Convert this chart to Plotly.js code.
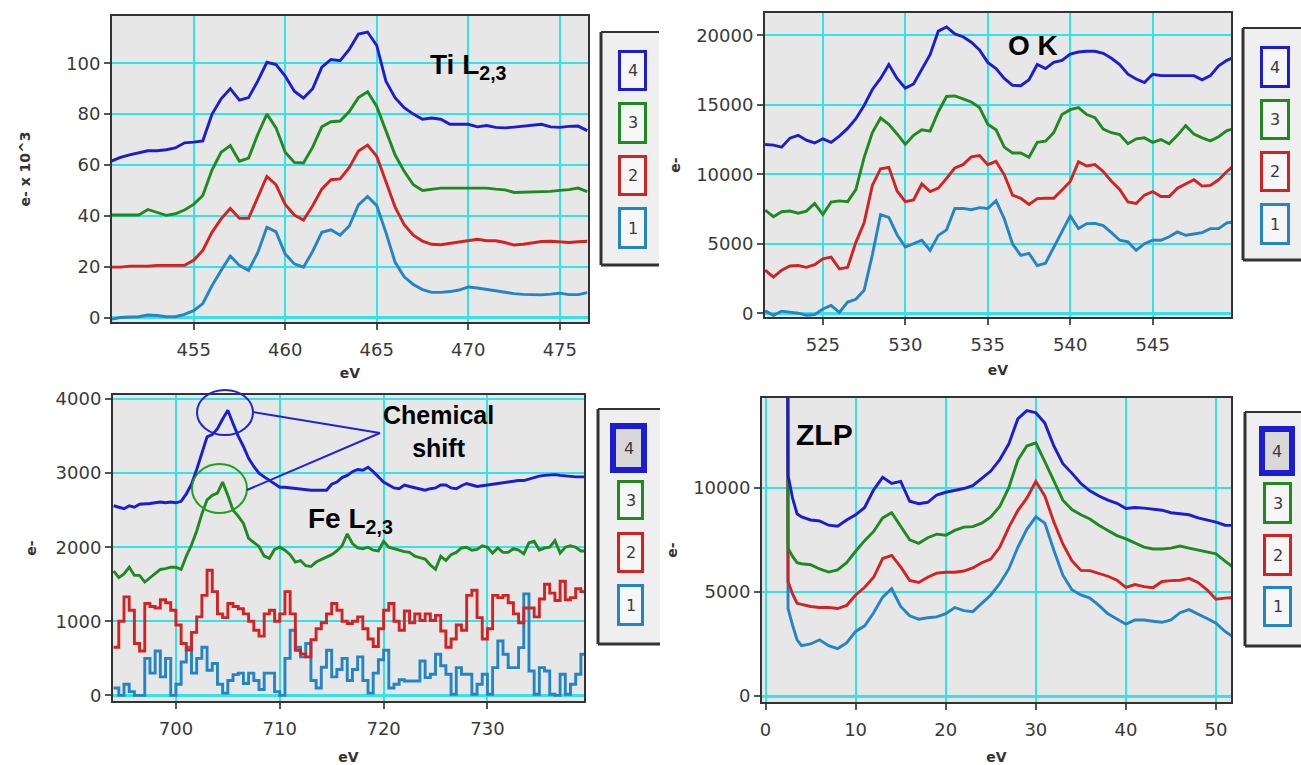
<!DOCTYPE html>
<html><head><meta charset="utf-8">
<script src="https://cdn.plot.ly/plotly-3.0.1.min.js"></script>
<style>html,body{margin:0;padding:0;background:#fff;}#chart{width:1301px;height:765px;}</style>
</head><body><div id="chart"></div>
<script>
// ---------- DATA ----------
const seriesNames = ['1','2','3','4'];

// Ti L2,3 panel
const tiEnergy = [450.5,451,451.5,452,452.5,453,453.5,454,454.5,455,455.5,456,456.5,457,457.5,458,458.5,459,459.5,460,460.5,461,461.5,462,462.5,463,463.5,464,464.5,465,465.5,466,466.5,467,467.5,468,468.5,469,469.5,470,470.5,471,471.5,472,472.5,473,473.5,474,474.5,475,475.5,476,476.5];
const tiS1 = [-0.7,0,0.2,0.3,1.0,0.8,0.3,0.3,1.2,2.7,5.5,12.5,18.5,24.2,20.5,18.5,25.5,35.5,33.7,25,21.1,19.8,26,33.5,34.5,32.4,36,44.3,47.6,44,33.5,21.8,16,13,11,9.9,9.9,10.2,10.8,12,11.6,11,10.5,10,9.4,9.1,9,8.9,9.2,9.6,9,9,9.8];
const tiS2 = [19.8,19.8,20.2,20.2,20.2,20.5,20.5,20.5,20.5,22.5,26.4,33.5,38.8,42.9,39,39,47.5,55.5,52.2,44.5,40.3,38.3,44,50.5,54.2,54.5,59,65.5,67.8,63.4,53.5,43.5,36.5,32.4,30,28.8,28.6,29.1,29.8,30.3,30.8,30.2,30.2,29.5,28.5,28.8,29.5,29.9,30,29.6,29.5,29.8,30];
const tiS3 = [40.3,40.3,40.3,40.3,42.5,41.3,40.2,40.8,42.3,44.5,48,58,65,67.6,61.5,62.7,72,80,74.6,65,61,60.8,67,75,77,77.3,81,86.5,88.8,83,73.3,64,57.5,52.2,50,50.5,50.9,50.9,50.9,51.1,51,50.9,50.5,50.2,49.2,49.3,49.5,49.5,49.6,50,50.3,50.9,49.5];
const tiS4 = [61.5,63,64,64.7,65.6,65.6,66,66.7,68.7,69,69.5,79.9,86,90,85.5,86.5,93,100.4,99.5,95,89,86.3,90,98.5,101.5,101,105.5,111.5,112.3,107,93,86.5,82.5,80,78,78.5,78,76,76,76,75,75.5,74.8,74.6,74.9,75.2,75.6,76,75,74.8,75.2,75.3,73.5];
const tiTickX = [455,460,465,470,475];
const tiTickY = [0,20,40,60,80,100];

// O K panel
const oEnergy = [521.5,522,522.5,523,523.5,524,524.5,525,525.5,526,526.5,527,527.5,528,528.5,529,529.5,530,530.5,531,531.5,532,532.5,533,533.5,534,534.5,535,535.5,536,536.5,537,537.5,538,538.5,539,539.5,540,540.5,541,541.5,542,542.5,543,543.5,544,544.5,545,545.5,546,546.5,547,547.5,548,548.5,549,549.5,550];
const oS1 = [170,-150,150,80,0,-150,-100,300,560,60,800,1000,1650,4200,7100,6900,5650,4760,5000,5250,4520,5600,6000,7540,7540,7450,7600,7540,8100,6800,5000,4160,4300,3430,3600,4760,5900,7000,6100,6450,6460,6300,5800,5250,5130,4520,5000,5250,5250,5500,5850,5610,5700,5800,6090,6090,6500,6600];
const oS2 = [3100,2600,3100,3400,3430,3300,3500,3920,4040,3190,3300,5100,6500,9200,10400,10500,8800,8030,8150,9300,8750,9000,9700,10450,10690,11250,11350,10690,10930,9960,8500,8270,7830,8250,8270,8270,8870,9480,10900,10600,10700,10200,9500,8900,8000,7900,8500,8750,8400,8400,9000,9300,9600,9150,9200,9600,10200,10700];
const oS3 = [7420,6950,7300,7350,7200,7350,7900,7100,8000,8080,8030,8900,11200,13000,14050,13600,12900,12150,12800,13200,13100,14500,15600,15640,15420,15200,14800,13600,13200,11950,11530,11530,11220,12300,12380,13000,14300,14650,14800,14300,14070,13250,12990,12860,12200,12550,12620,12300,12500,12200,12800,13500,12900,12620,12400,12700,13150,13300];
const oS4 = [12140,12100,11950,12600,12800,12450,12250,12550,12300,12750,13300,14000,14950,16100,16900,17900,16900,16200,16500,17500,18600,20300,20600,20100,19900,19500,18950,18050,17600,16900,16400,16370,16800,17900,17600,18050,18200,18650,18800,18850,18850,18700,18350,17900,17200,16850,16600,17200,17100,17100,17100,17050,17100,16800,17100,17800,18200,18450];
const oTickX = [525,530,535,540,545];
const oTickY = [0,5000,10000,15000,20000];

// Fe L2,3 panel
const feEnergy = [694,694.5,695,695.5,696,696.5,697,697.5,698,698.5,699,699.5,700,700.5,701,701.5,702,702.5,703,703.5,704,704.5,705,705.5,706,706.5,707,707.5,708,708.5,709,709.5,710,710.5,711,711.5,712,712.5,713,713.5,714,714.5,715,715.5,716,716.5,717,717.5,718,718.5,719,719.5,720,720.5,721,721.5,722,722.5,723,723.5,724,724.5,725,725.5,726,726.5,727,727.5,728,728.5,729,729.5,730,730.5,731,731.5,732,732.5,733,733.5,734,734.5,735,735.5,736,736.5,737,737.5,738,738.5,739,739.5];
const feS1 = [100,0,150,50,0,0,500,300,600,250,500,0,150,450,650,300,500,650,340,430,150,30,200,280,300,160,300,200,80,300,300,50,0,500,880,650,520,700,200,100,380,610,250,350,500,200,350,520,200,30,300,480,610,100,150,210,195,195,195,465,240,285,555,400,285,15,375,285,285,15,150,285,15,375,735,555,375,375,645,1370,330,15,375,330,15,0,285,15,150,285,555,550];
const feS2 = [650,1000,1330,1150,700,600,1240,1200,1180,1290,1250,1150,950,700,613,850,1060,1350,1690,1400,1100,1050,1240,1200,1170,1100,1000,880,800,1100,1150,1000,1100,1400,1100,610,560,520,750,900,980,1100,1240,1150,1000,970,1000,1060,900,760,660,900,1150,1240,1000,880,1140,980,1100,1010,1100,1010,1080,870,650,760,950,880,1350,1420,1050,760,900,1350,1320,1350,1250,1100,980,1180,1180,1060,1300,1500,1380,1280,1540,1290,1320,1440,1400,1280];
const feS3 = [1680,1590,1640,1730,1620,1620,1530,1590,1640,1700,1710,1730,1730,1700,1880,2030,2220,2450,2640,2700,2730,2880,2700,2500,2420,2320,2120,2060,2010,1880,1850,1970,2000,1960,1900,1800,1820,1750,1740,1800,1830,1860,1900,1950,2020,2180,2050,1990,1980,2000,1960,1950,2080,2000,1980,1950,1940,1930,1880,1860,1840,1760,1700,1880,1820,1900,1930,1990,2000,1960,1970,2020,2000,1920,1990,1930,1930,1980,1960,1910,2060,2080,1960,1990,2000,2090,1920,2000,2020,2000,1950,1950];
const feS4 = [2560,2540,2520,2560,2540,2580,2580,2590,2600,2610,2600,2610,2600,2620,2720,2850,3050,3280,3490,3520,3600,3730,3850,3670,3500,3360,3200,3090,3000,2950,2900,2850,2810,2810,2800,2790,2790,2780,2770,2770,2770,2770,2850,2880,2940,2970,3020,3050,3040,3080,3020,2950,2880,2840,2800,2790,2840,2820,2800,2780,2770,2790,2800,2840,2840,2800,2790,2830,2860,2840,2820,2830,2840,2860,2860,2870,2880,2890,2900,2900,2920,2950,2960,2970,2980,2980,2970,2960,2950,2950,2950,2950];
const feTickX = [700,710,720,730];
const feTickY = [0,1000,2000,3000,4000];

// Low-loss (ZLP) panel
const llEnergy = [2.3,2.5,3,3.5,4,5,6,7,8,9,10,11,12,13,14,15,16,17,18,19,20,21,22,23,24,25,26,27,28,29,30,31,32,33,34,35,36,37,38,39,40,41,42,43,44,45,46,47,48,49,50,51,52];
const llS1 = [60000,4200,3400,2700,2420,2500,2700,2420,2280,2550,3100,3370,4000,4750,5150,4300,3850,3690,3760,3800,3950,4250,4100,4050,4450,4850,5400,6100,7140,8000,8600,8300,7000,5800,5100,4850,4700,4350,3950,3700,3450,3650,3650,3590,3540,3650,4000,4150,3950,3720,3500,3100,2800];
const llS2 = [60000,5500,4900,4450,4400,4300,4250,4250,4200,4350,4850,5220,5700,6600,6750,6200,5550,5450,5700,5900,5940,5940,6000,6150,6400,6570,7150,8100,8900,9500,10300,9600,8350,7300,6500,6030,6020,5900,5750,5560,5220,5350,5250,5200,5500,5540,5560,5650,5450,5100,4650,4700,4730];
const llS3 = [60000,7100,6700,6400,6350,6300,6100,5950,6050,6400,6950,7460,7900,8550,8800,8150,7500,7330,7600,7770,7720,7950,8110,8130,8300,8600,9100,10000,11320,12000,12150,11250,10300,9400,8950,8700,8500,8200,7950,7700,7540,7350,7150,7060,7060,7100,7200,7100,7000,6910,6820,6480,6150];
const llS4 = [60000,10600,9500,8750,8600,8450,8400,8200,8150,8450,8700,9050,9900,10500,10200,10300,9350,9230,9300,9650,9780,9870,9960,10100,10450,10800,11350,12100,13300,13700,13600,13100,12000,11150,10700,10200,9850,9600,9400,9250,9000,9050,9020,8970,8920,8800,8750,8700,8550,8450,8350,8200,8190];
const llTickX = [0,10,20,30,40,50];
const llTickY = [0,5000,10000];

// ---------- STYLE ----------
const W = 1301, H = 765;
const fx = p => p / W, fy = p => 1 - p / H;
const colors = ['#2384c6', '#d42222', '#1f8a1f', '#1c1cd2'];
const gridC = '#33e3ea';
const tickFont = {family: 'DejaVu Sans', size: 18, color: '#3a3a3a'};
const titleFont = {family: 'DejaVu Sans', size: 14, color: '#333', weight: 'bold'};

function xAx(dom, rng, ticks, anchor, standoff) {
  return {domain: dom, range: rng, anchor: anchor, tickmode: 'array', tickvals: ticks, ticktext: ticks.map(String),
    showline: true, linecolor: '#333', linewidth: 2, mirror: true,
    ticks: 'outside', ticklen: 6, tickwidth: 2, tickcolor: '#555', ticklabelstandoff: 4,
    showgrid: true, gridcolor: gridC, gridwidth: 2, zeroline: false,
    tickfont: tickFont, fixedrange: true,
    title: {text: 'eV', font: titleFont, standoff: standoff}};
}
function yAx(dom, rng, ticks, anchor, title, standoff) {
  return {domain: dom, range: rng, anchor: anchor, tickmode: 'array', tickvals: ticks, ticktext: ticks.map(String),
    showline: true, linecolor: '#333', linewidth: 2, mirror: true,
    ticks: 'outside', ticklen: 6, tickwidth: 2, tickcolor: '#555',
    showgrid: true, gridcolor: gridC, gridwidth: 2, zeroline: true, zerolinecolor: gridC, zerolinewidth: 3,
    tickfont: tickFont, fixedrange: true,
    title: {text: title, font: titleFont, standoff: standoff}};
}

const panels = [
  {x: tiEnergy, ys: [tiS1, tiS2, tiS3, tiS4], xa: 'x', ya: 'y', shapes: ['linear','linear','linear','linear']},
  {x: oEnergy, ys: [oS1, oS2, oS3, oS4], xa: 'x2', ya: 'y2', shapes: ['linear','linear','linear','linear']},
  {x: feEnergy, ys: [feS1, feS2, feS3, feS4], xa: 'x3', ya: 'y3', shapes: ['hv','hv','linear','linear']},
  {x: llEnergy, ys: [llS1, llS2, llS3, llS4], xa: 'x4', ya: 'y4', shapes: ['linear','linear','linear','linear']}
];
const traces = [];
panels.forEach(p => {
  p.ys.forEach((y, i) => {
    traces.push({type: 'scatter', mode: 'lines', x: p.x, y: y, name: seriesNames[i],
      xaxis: p.xa, yaxis: p.ya, line: {color: colors[i], width: 2.9, shape: p.shapes[i]}, hoverinfo: 'skip'});
  });
});

// custom legends (pixel layout)
const legends = [
  {box: [601, 32, 659, 265], items: [[618,207,647,249],[618,155,647,196],[618,102,647,144],[618,50,647,91]], hl: -1},
  {box: [1243, 28, 1301, 260], items: [[1260,203,1290,245],[1260,151,1290,192],[1260,99,1290,140],[1260,46,1290,88]], hl: -1},
  {box: [598, 409, 660, 644], items: [[617,584,644,626],[617,532,644,573],[617,480,644,520],[610,423,647,473]], hl: 3},
  {box: [1245, 412, 1301, 646], items: [[1263,586,1292,627],[1263,534,1292,576],[1263,482,1292,524],[1259,426,1295,476]], hl: 3}
];
const shapes = [], annotations = [];
// rectangle from pixel corners (left, top, right, bottom)
const R = (x0, y0, x1, y1) => ({xref: 'paper', yref: 'paper', x0: fx(x0), x1: fx(x1), y0: fy(y1), y1: fy(y0)});
// line from pixel point (x0,y0) to (x1,y1)
const Ln = (x0, y0, x1, y1) => ({xref: 'paper', yref: 'paper', x0: fx(x0), x1: fx(x1), y0: fy(y0), y1: fy(y1)});
legends.forEach(L => {
  const [bx0, by0, bx1, by1] = L.box;
  shapes.push(Object.assign({type: 'rect', fillcolor: '#efefef', line: {width: 0}}, R(bx0, by0, bx1, by1)));
  shapes.push(Object.assign({type: 'line', line: {color: '#333', width: 3}}, Ln(bx0, by0, bx0, by1)));
  shapes.push(Object.assign({type: 'line', line: {color: '#333', width: 2}}, Ln(bx0, by0, bx1, by0)));
  shapes.push(Object.assign({type: 'line', line: {color: '#333', width: 3}}, Ln(bx0, by1, bx1, by1)));
  L.items.forEach((it, i) => {
    const hl = (i === L.hl);
    const lw = hl ? 6 : 3;
    shapes.push(Object.assign({type: 'rect', fillcolor: hl ? '#d8d8d8' : '#f6f6f6', line: {color: colors[i], width: lw}},
      R(it[0] + lw / 2, it[1] + lw / 2, it[2] - lw / 2, it[3] - lw / 2)));
    annotations.push({xref: 'paper', yref: 'paper', x: fx((it[0] + it[2]) / 2), y: fy((it[1] + it[3]) / 2),
      xanchor: 'center', yanchor: 'middle', showarrow: false, text: seriesNames[i],
      font: {family: 'DejaVu Sans', size: 16, color: '#3a3a3a'}});
  });
});

// chemical shift markers
shapes.push(Object.assign({type: 'circle', line: {color: '#2222d8', width: 2}}, R(197, 390, 253, 435)));
shapes.push(Object.assign({type: 'circle', line: {color: '#22a022', width: 2}}, R(192, 464, 247, 513)));
shapes.push(Object.assign({type: 'line', line: {color: '#2222d8', width: 2}}, Ln(253, 412, 380, 433)));
shapes.push(Object.assign({type: 'line', line: {color: '#2222d8', width: 2}}, Ln(247, 490, 380, 433)));

const lab = (text, x, y, size) => annotations.push({xref: 'paper', yref: 'paper', x: fx(x), y: fy(y),
  xanchor: 'center', yanchor: 'middle', showarrow: false, text: text,
  font: {family: 'Liberation Sans', size: size, color: '#000', weight: 'bold'}});
lab('Ti L<sub>2,3</sub>', 468, 66, 28);
lab('O K', 1033, 45, 28);
lab('Chemical<br>shift', 438, 431, 25);
lab('Fe L<sub>2,3</sub>', 350, 520, 28);
lab('ZLP', 824, 434, 30);

const layout = {
  width: W, height: H, margin: {l: 0, r: 0, t: 0, b: 0},
  paper_bgcolor: '#ffffff', plot_bgcolor: '#e7e7e7', showlegend: false,
  xaxis: xAx([fx(112), fx(588)], [450.54, 476.54], tiTickX, 'y', 10),
  yaxis: yAx([fy(322), fy(16)], [-1.77, 118.6], tiTickY, 'x', 'e- x 10^3', 32),
  xaxis2: xAx([fx(765), fx(1231)], [521.49, 549.75], oTickX, 'y2', 12),
  yaxis2: yAx([fy(317), fy(13)], [-273, 21605], oTickY, 'x2', 'e-', 12),
  xaxis3: xAx([fx(113), fx(584)], [693.94, 739.3], feTickX, 'y3', 16),
  yaxis3: yAx([fy(701), fy(395)], [-76, 4055], feTickY, 'x3', 'e-', 16),
  xaxis4: xAx([fx(762), fx(1231)], [-0.39, 51.66], llTickX, 'y4', 16),
  yaxis4: yAx([fy(702), fy(398)], [-286, 14305], llTickY, 'x4', 'e-', 12),
  shapes: shapes, annotations: annotations
};
Plotly.newPlot('chart', traces, layout, {staticPlot: true, displayModeBar: false});
</script>
</body></html>
